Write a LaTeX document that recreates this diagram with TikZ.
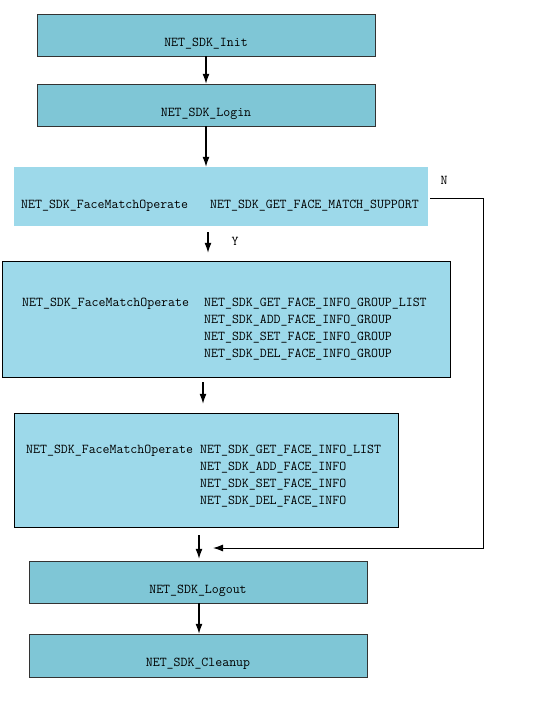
\documentclass[tikz,border=0pt]{standalone}
\usetikzlibrary{arrows.meta}

\definecolor{boxdark}{HTML}{7FC6D6}
\definecolor{boxlight}{HTML}{9DD9EA}

\tikzset{
  stepbox/.style={draw=black!80, fill=boxdark, minimum width=338pt, minimum height=42pt, inner sep=0pt},
  opbox/.style={fill=boxlight, inner sep=0pt},
  lbl/.style={font=\ttfamily\fontsize{13.5}{17}\selectfont, inner sep=0pt, text height=8pt, text depth=2pt},
  arr/.style={-{Latex[length=10pt,width=7pt]}, line width=1.2pt}
}

\begin{document}
\begin{tikzpicture}[x=1pt, y=-1pt]

\useasboundingbox[fill=white] (0,0) rectangle (539,718);

% Login and init
\node[stepbox] (init) at (206,35) {};
\node[stepbox] (login) at (206,105) {};
\node[lbl] (initlbl) at ([yshift=-8pt]init.center) {NET\_SDK\_Init};
\node[lbl] (loginlbl) at ([yshift=-8pt]login.center) {NET\_SDK\_Login};

% Support check
\node[opbox, minimum width=414pt, minimum height=59pt] (match) at (221,196.5) {};
\node[lbl, anchor=west] (matchop) at (21,205) {NET\_SDK\_FaceMatchOperate};
\node[lbl, anchor=west] (matchcmd) at (210,205) {NET\_SDK\_GET\_FACE\_MATCH\_SUPPORT};

% Face groups
\node[opbox, draw=black, minimum width=448pt, minimum height=116pt] (group) at (226,319) {};
\node[lbl, anchor=west] (groupop) at (22,303) {NET\_SDK\_FaceMatchOperate};
\foreach \cmd [count=\i from 0] in {GET\_FACE\_INFO\_GROUP\_LIST, ADD\_FACE\_INFO\_GROUP, SET\_FACE\_INFO\_GROUP, DEL\_FACE\_INFO\_GROUP}
  \node[lbl, anchor=west] (groupcmd\i) at (204,303+17*\i) {NET\_SDK\_\cmd};

% Face info
\node[opbox, draw=black, minimum width=384pt, minimum height=114pt] (info) at (206,470) {};
\node[lbl, anchor=west] (infoop) at (26,450) {NET\_SDK\_FaceMatchOperate};
\foreach \cmd [count=\i from 0] in {GET\_FACE\_INFO\_LIST, ADD\_FACE\_INFO, SET\_FACE\_INFO, DEL\_FACE\_INFO}
  \node[lbl, anchor=west] (infocmd\i) at (200,450+17*\i) {NET\_SDK\_\cmd};

% Logout and cleanup
\node[stepbox] (logout) at (198,582) {};
\node[stepbox, minimum height=43pt] (cleanup) at (198,655.5) {};
\node[lbl] (logoutlbl) at ([yshift=-8pt]logout.center) {NET\_SDK\_Logout};
\node[lbl] (cleanuplbl) at ([yshift=-8pt]cleanup.center) {NET\_SDK\_Cleanup};

% Arrows
\draw[arr] (init.south) -- (login.north);
\draw[arr] (login.south) -- (login.south |- match.north);
\draw[arr, shorten <=6pt, shorten >=8pt] (match.south -| 208,0) -- (group.north -| 208,0);
\draw[arr, shorten <=5pt, shorten >=9pt] (group.south -| 203,0) -- (info.north -| 203,0);
\draw[arr, shorten <=8pt, shorten >=2pt] (info.south -| 199,0) -- (logout.north -| 199,0);
\draw[arr] (logout.south -| 199,0) -- (cleanup.north -| 199,0);

% N branch
\coordinate (back) at (213,548);
\draw[arr, line width=1pt, shorten <=2pt] (match.east |- 0,198) -- (483,198) -- (483,548) -- (back);

\node[lbl] (ylbl) at (235,242) {Y};
\node[lbl] (nlbl) at (444,181) {N};

\end{tikzpicture}
\end{document}
